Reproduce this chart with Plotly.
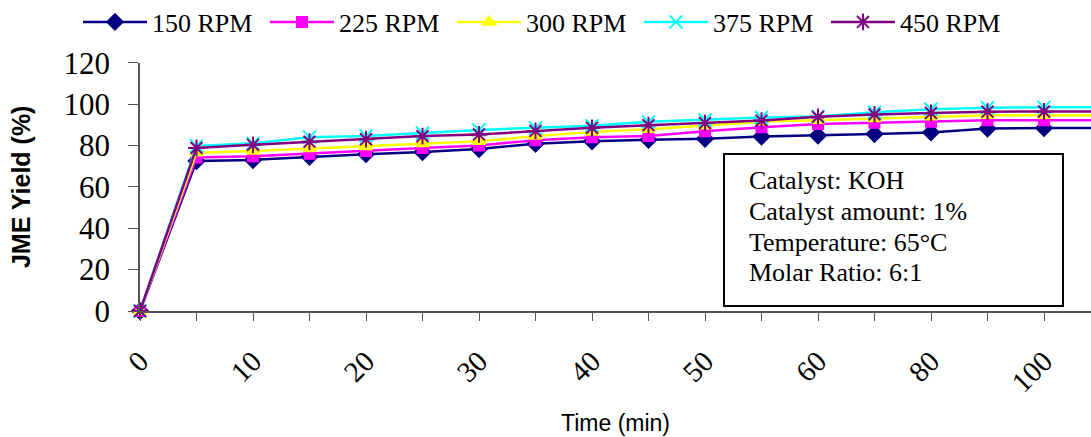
import plotly.graph_objects as go

# ---- data ----
time_min = [0, 5, 10, 15, 20, 25, 30, 35, 40, 45, 50, 55, 60, 70, 80, 90, 100, 110]
tick_labels = ["0", "10", "20", "30", "40", "50", "60", "80", "100"]
tick_label_times = [0, 10, 20, 30, 40, 50, 60, 80, 100]

rpm150 = [0, 72.5, 73.0, 74.5, 75.8, 76.8, 78.3, 80.8, 82.0, 82.7, 83.2, 84.3, 84.8, 85.5, 86.3, 88.2, 88.4, 88.4]
rpm225 = [0, 74.2, 74.8, 76.0, 77.3, 78.7, 80.0, 82.5, 84.0, 84.5, 86.8, 88.8, 90.4, 90.9, 91.4, 92.2, 92.2, 92.2]
rpm300 = [0, 76.5, 77.3, 78.5, 79.5, 80.9, 82.0, 84.5, 86.5, 87.8, 89.5, 91.5, 92.2, 93.0, 93.8, 94.6, 94.6, 94.6]
rpm375 = [0, 79.8, 81.0, 84.0, 84.6, 86.0, 87.5, 88.5, 89.5, 91.4, 92.3, 93.5, 94.0, 96.0, 97.5, 98.2, 98.4, 98.4]
rpm450 = [0, 78.8, 80.3, 81.8, 83.0, 84.5, 85.3, 87.0, 88.5, 89.8, 90.8, 92.0, 93.8, 95.0, 95.7, 96.3, 96.4, 96.4]

series_names = ["150 RPM", "225 RPM", "300 RPM", "375 RPM", "450 RPM"]
series_values = [rpm150, rpm225, rpm300, rpm375, rpm450]

info_lines = ["Catalyst: KOH", "Catalyst amount: 1%", "Temperature: 65°C", "Molar Ratio: 6:1"]

# ---- styles ----
colors = ["#000080", "#FF00FF", "#FFFF00", "#00FFFF", "#800080"]
symbols = ["diamond", "square", "triangle-up", "x-thin-open", "asterisk-open"]
msizes = [12, 10, 11, 13, 14]

W, H = 1091, 437
ML, MR, MT, MB = 140, 0, 58, 126
PW, PH = W - ML - MR, H - MT - MB
spacing = 56.5

xidx = list(range(len(time_min)))
tickvals = [time_min.index(t) for t in tick_label_times]

fig = go.Figure()
for name, vals, c, s, ms in zip(series_names, series_values, colors, symbols, msizes):
    fig.add_trace(go.Scatter(
        x=xidx, y=vals, name=name, mode="lines+markers",
        line=dict(color=c, width=2.5),
        marker=dict(color=c, symbol=s, size=ms, line=dict(color=c, width=2)),
        cliponaxis=False,
    ))

serif = "Liberation Serif, Times New Roman, serif"
sans = "Liberation Sans, Arial, sans-serif"

fig.update_layout(
    width=W, height=H,
    margin=dict(l=ML, r=MR, t=MT, b=MB),
    paper_bgcolor="white", plot_bgcolor="white",
    showlegend=True,
    legend=dict(
        orientation="h", xref="container", yref="container",
        x=78 / W, xanchor="left", y=1 - 22 / H, yanchor="middle",
        font=dict(family=serif, size=26, color="black"),
        entrywidth=108, entrywidthmode="pixels",
        itemwidth=64, tracegroupgap=0,
        bgcolor="rgba(0,0,0,0)",
    ),
    xaxis=dict(
        range=[0, PW / spacing],
        tickmode="array", tickvals=tickvals, ticktext=tick_labels,
        tickangle=-45,
        tickfont=dict(family=serif, size=29, color="black"),
        ticks="outside", ticklen=8, tickcolor="#555555", tickwidth=1,
        minor=dict(dtick=1, tick0=0, ticks="outside", ticklen=8, tickcolor="#555555", tickwidth=1, showgrid=False),
        showline=True, linecolor="#555555", linewidth=1.5,
        showgrid=False, zeroline=False,
        ticklabelstandoff=12,
        title=dict(text="Time (min)", font=dict(family=sans, size=23, color="black"), standoff=18),
    ),
    yaxis=dict(
        range=[0, 120], dtick=20, tick0=0,
        tickfont=dict(family=serif, size=31, color="black"),
        ticks="outside", ticklen=10, tickcolor="#555555", tickwidth=1,
        showline=True, linecolor="#555555", linewidth=1.5,
        showgrid=False, zeroline=False,
        ticklabelstandoff=12,
        title=dict(text="<b>JME Yield (%)</b>", font=dict(family=sans, size=25, color="black"), standoff=26),
    ),
)

# info box
bx0, bx1, by0, by1 = 724, 1063, 151, 306
fig.add_shape(type="rect", xref="paper", yref="paper",
              x0=(bx0 - ML) / PW, x1=(bx1 - ML) / PW,
              y0=1 - (by1 - MT) / PH, y1=1 - (by0 - MT) / PH,
              line=dict(color="black", width=2), fillcolor="white", layer="above")
line_y = [178, 210, 241, 272]
for txt, py in zip(info_lines, line_y):
    fig.add_annotation(text=txt, xref="paper", yref="paper",
                       x=(747 - ML) / PW, y=1 - (py - MT) / PH,
                       xanchor="left", yanchor="middle", showarrow=False,
                       font=dict(family=serif, size=26, color="black"))

fig.write_html("out.html")
